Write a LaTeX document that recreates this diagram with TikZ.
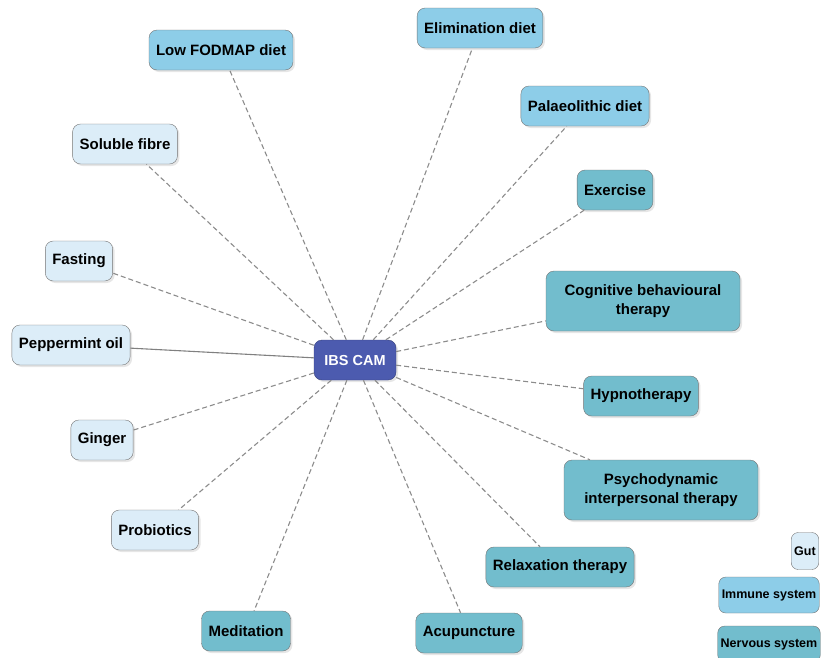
\documentclass[tikz,border=0pt]{standalone}
\usepackage{fontspec}
\setmainfont{Liberation Sans}
\usetikzlibrary{shadows}
\definecolor{gutfill}{HTML}{DCEDF8}
\definecolor{immfill}{HTML}{8DCDE8}
\definecolor{nerfill}{HTML}{72BDCD}
\definecolor{hubfill}{HTML}{4C5BAF}

\begin{document}
\begin{tikzpicture}[x=1pt,y=-1pt,
  box/.style={draw=black!55, rounded corners=8pt, minimum height=40pt, inner xsep=7pt,
    align=center, font=\bfseries\fontsize{15}{19}\selectfont,
    drop shadow={opacity=0.2, shadow xshift=2pt, shadow yshift=-2pt}},
  gut/.style={box, fill=gutfill},
  imm/.style={box, fill=immfill},
  ner/.style={box, fill=nerfill},
  key/.style={draw=black!55, rounded corners=7pt, minimum height=36pt, inner xsep=3pt,
    font=\bfseries\fontsize{12.5}{14}\selectfont},
  link/.style={draw=black!45, line width=1.1pt, dash pattern=on 5pt off 3pt}]
\useasboundingbox (0,0) rectangle (822,657);

% hub
\node[box, fill=hubfill, draw=hubfill!70!black, text=white, minimum width=82pt,
  font=\bfseries\fontsize{14.5}{16}\selectfont] (ibs) at (355,360) {IBS CAM};

% gut
\node[gut] (fibre) at (125,144) {Soluble fibre};
\node[gut] (fast) at (79,261) {Fasting};
\node[gut] (mint) at (71,345) {Peppermint oil};
\node[gut] (ginger) at (102,440) {Ginger};
\node[gut] (probio) at (155,530) {Probiotics};

% immune system
\node[imm] (fodmap) at (221,50) {Low FODMAP diet};
\node[imm] (elim) at (480,28) {Elimination diet};
\node[imm] (paleo) at (585,106) {Palaeolithic diet};

% nervous system
\node[ner] (exer) at (615,190) {Exercise};
\node[ner, minimum width=194pt, minimum height=60pt] (cbt) at (643,301) {Cognitive behavioural\\therapy};
\node[ner] (hypno) at (641,396) {Hypnotherapy};
\node[ner, minimum width=194pt, minimum height=60pt] (psycho) at (661,490) {Psychodynamic\\interpersonal therapy};
\node[ner] (relax) at (560,567) {Relaxation therapy};
\node[ner] (acu) at (469,633) {Acupuncture};
\node[ner] (medit) at (246,631) {Meditation};

% links
\foreach \n in {fibre,fast,ginger,probio,fodmap,elim,paleo,exer,cbt,hypno,psycho,relax,acu,medit}
  \draw[link] (ibs) -- (\n);
\draw[draw=black!50, line width=1.1pt] (ibs) -- (mint);

% key
\node[key, fill=gutfill, minimum height=37pt] (kgut) at (805,551) {Gut};
\node[key, fill=immfill] (kimm) at (769,595) {Immune system};
\node[key, fill=nerfill] (kner) at (769,644) {Nervous system};

\end{tikzpicture}
\end{document}
